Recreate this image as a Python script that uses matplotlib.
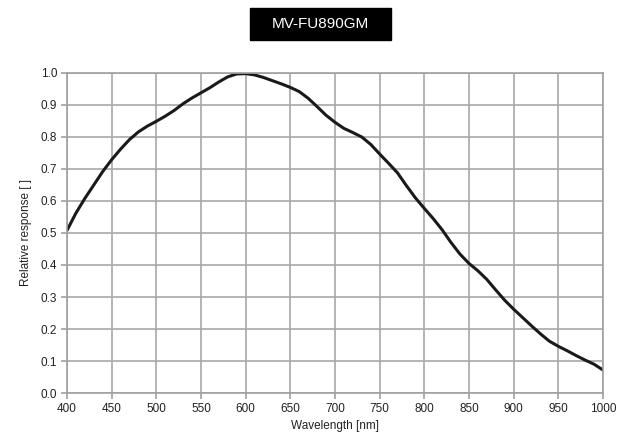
import numpy as np
import matplotlib.pyplot as plt
from matplotlib.patches import Rectangle

plt.rcParams['font.family'] = ['Liberation Sans', 'DejaVu Sans']

# spectral response
wavelength = [400, 410, 420, 430, 440, 450, 460, 470, 480, 490,
              500, 510, 520, 530, 540, 550, 560, 570, 580, 590,
              600, 610, 620, 630, 640, 650, 660, 670, 680, 690,
              700, 710, 720, 730, 740, 750, 760, 770, 780, 790,
              800, 810, 820, 830, 840, 850, 860, 870, 880, 890,
              900, 910, 920, 930, 940, 950, 960, 970, 980, 990, 1000]
response = [0.508, 0.562, 0.608, 0.650, 0.692, 0.729, 0.762, 0.792, 0.816, 0.834,
            0.849, 0.865, 0.883, 0.904, 0.922, 0.938, 0.954, 0.972, 0.988, 0.997,
            0.998, 0.994, 0.986, 0.976, 0.966, 0.955, 0.942, 0.921, 0.895, 0.868,
            0.846, 0.827, 0.814, 0.800, 0.777, 0.747, 0.718, 0.688, 0.648, 0.610,
            0.577, 0.545, 0.510, 0.470, 0.434, 0.405, 0.382, 0.355, 0.322, 0.290,
            0.262, 0.236, 0.210, 0.185, 0.162, 0.146, 0.132, 0.117, 0.103, 0.090, 0.072]

xticks = np.arange(400, 1001, 50)
yticks = np.arange(0, 1.01, 0.1)

fig = plt.figure(figsize=(6.36, 4.47), dpi=100)
ax = fig.add_axes([0.1053, 0.1208, 0.8427, 0.7159])

ax.plot(wavelength, response, color='#1a1a1a', lw=2.2, solid_capstyle='round')

ax.set_xlim(400, 1000)
ax.set_ylim(0, 1.0)
ax.set_xticks(xticks)
ax.set_yticks(yticks)
ax.set_yticklabels(['%.1f' % v for v in yticks])
ax.grid(True, color='#a8a8a8', lw=1.2)
ax.set_axisbelow(True)
for s in ax.spines.values():
    s.set_color('#a0a0a0')
    s.set_linewidth(1.2)
ax.tick_params(axis='both', direction='out', length=4, width=1.2, color='#a0a0a0',
               labelsize=8.5, labelcolor='#222222', pad=3)

ax.set_xlabel('Wavelength [nm]', fontsize=8.5, color='#222222', labelpad=4)
ax.set_ylabel('Relative response [ ]', fontsize=8.5, color='#222222', labelpad=6)

# black title box
fig.patches.append(Rectangle((250 / 636, 1 - 40 / 447), 141 / 636, 32 / 447,
                             transform=fig.transFigure, color='black'))
fig.text(320.5 / 636, 1 - 24 / 447, 'MV-FU890GM', color='white', fontsize=11,
         ha='center', va='center')

fig.savefig('out.png', dpi=100)
